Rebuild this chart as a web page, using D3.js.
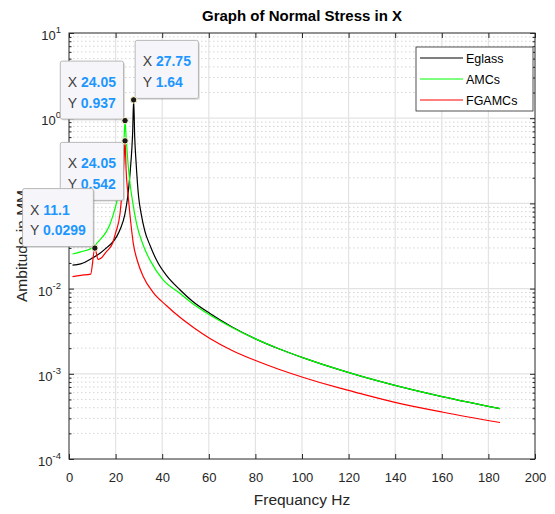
<!DOCTYPE html>
<html>
<head>
<meta charset="utf-8">
<script src="https://cdn.jsdelivr.net/npm/d3@7"></script>
<style>
  body { margin: 0; background: #fff; }
  svg { font-family: "Liberation Sans", Arial, sans-serif; }
</style>
</head>
<body>
<svg id="chart" width="555" height="514"></svg>
<script>
// values
const seriesNames = ["Eglass", "AMCs", "FGAMCs"];
const seriesColors = ["#000000", "#00ff00", "#ff0000"];

const freqEglass = [1.5, 5, 10, 13.3, 16, 18.7, 20.5, 22, 24, 25.2, 26.2, 27, 27.3, 27.75, 28.2, 28.8, 29.9, 31, 32.5, 34.8, 38, 41.9, 47.6, 53, 60.5, 70, 79.8, 90, 100.6, 116.3, 124.9, 139.9, 160.6, 185];
const ampEglass = [0.0189, 0.0195, 0.0228, 0.026, 0.03, 0.035, 0.041, 0.05, 0.075, 0.12, 0.225, 0.45, 0.66, 1.64, 0.6, 0.3, 0.118, 0.075, 0.048, 0.032, 0.0205, 0.0142, 0.0097, 0.0071, 0.0051, 0.00355, 0.00259, 0.00197, 0.00154, 0.00111, 0.000944, 0.000731, 0.000536, 0.00039];

const freqAMC = [1.5, 5, 10.7, 11.9, 15.9, 17.6, 18.7, 20.7, 22.6, 23.6, 24.05, 24.5, 25.3, 26.2, 27.3, 29, 31.9, 35, 40.2, 47.6, 53, 60.5, 70, 79.8, 90, 100.6, 116.3, 124.9, 139.9, 160.6, 185];
const ampAMC = [0.0255, 0.027, 0.031, 0.034, 0.046, 0.057, 0.07, 0.11, 0.225, 0.55, 0.937, 0.6, 0.3, 0.17, 0.105, 0.058, 0.032, 0.021, 0.0128, 0.0088, 0.0067, 0.0049, 0.0035, 0.00259, 0.00197, 0.00154, 0.00111, 0.000944, 0.000731, 0.000536, 0.00039];

const freqFGAMC = [1.5, 5, 9.3, 11.1, 12.5, 13.5, 16, 18.7, 20, 21.9, 23.3, 23.9, 24.05, 24.5, 25.5, 26.5, 27.6, 29.5, 31.9, 36, 41.9, 47.6, 53.4, 60.5, 70, 79.8, 90, 100.6, 116.3, 124.9, 139.9, 160.6, 185];
const ampFGAMC = [0.0138, 0.0143, 0.0148, 0.0299, 0.022, 0.0225, 0.027, 0.034, 0.045, 0.076, 0.225, 0.46, 0.542, 0.25, 0.115, 0.06, 0.034, 0.0205, 0.0138, 0.0091, 0.0063, 0.0046, 0.0035, 0.0026, 0.00188, 0.00144, 0.00113, 0.000906, 0.000678, 0.000588, 0.000462, 0.000354, 0.000268];

const xTicks = [0, 20, 40, 60, 80, 100, 120, 140, 160, 180, 200];
const yExponents = [-4, -3, -2, -1, 0, 1];

// data tips: x, y, which side the box sits on
const tipX = [27.75, 24.05, 24.05, 11.1];
const tipY = [1.64, 0.937, 0.542, 0.0299];
const tipSide = ["upright", "upleft", "downleft", "upleft"];

const titleText = "Graph of Normal Stress in X";
const xLabelText = "Frequancy Hz";
const yLabelText = "Ambitude in MM";

const W = 555, H = 514;
const margin = { top: 33, right: 20, bottom: 55, left: 69 };
const svg = d3.select("#chart");
const axColor = "#262626";

const x = d3.scaleLinear().domain([0, 200]).range([margin.left, W - margin.right]);
const y = d3.scaleLog().domain([1e-4, 10]).range([H - margin.bottom, margin.top]);

const xL = x.range()[0], xR = x.range()[1];
const yT = y.range()[1], yB = y.range()[0];

const majorY = yExponents.map(e => Math.pow(10, e));
const minorY = [];
yExponents.slice(0, -1).forEach(e => {
  for (let k = 2; k <= 9; k++) minorY.push(k * Math.pow(10, e));
});

// grid
const grid = svg.append("g");
grid.selectAll(".ymin").data(minorY).join("line")
  .attr("x1", xL).attr("x2", xR)
  .attr("y1", d => y(d)).attr("y2", d => y(d))
  .attr("stroke", "#d4d4d4").attr("stroke-width", 1)
  .attr("stroke-dasharray", "1.5,2.5");
grid.selectAll(".ymaj").data(majorY.slice(1, -1)).join("line")
  .attr("x1", xL).attr("x2", xR)
  .attr("y1", d => y(d)).attr("y2", d => y(d))
  .attr("stroke", "#e3e3e3").attr("stroke-width", 1.2);
grid.selectAll(".xmaj").data(xTicks.slice(1, -1)).join("line")
  .attr("x1", d => x(d)).attr("x2", d => x(d))
  .attr("y1", yT).attr("y2", yB)
  .attr("stroke", "#e3e3e3").attr("stroke-width", 1.2);

// lines
const line = d3.line()
  .x(d => x(d[0])).y(d => y(d[1]))
  .curve(d3.curveMonotoneX);

const allFreq = [freqEglass, freqAMC, freqFGAMC];
const allAmp = [ampEglass, ampAMC, ampFGAMC];

allFreq.forEach((f, i) => {
  svg.append("path")
    .datum(d3.zip(f, allAmp[i]))
    .attr("fill", "none")
    .attr("stroke", seriesColors[i])
    .attr("stroke-width", 1.2)
    .attr("d", line);
});

// axes, ticks pointing inward
const xAxisB = svg.append("g").attr("transform", `translate(0,${yB})`)
  .call(d3.axisBottom(x).tickValues(xTicks).tickSize(-5).tickPadding(14).tickSizeOuter(0));
const xAxisT = svg.append("g").attr("transform", `translate(0,${yT})`)
  .call(d3.axisTop(x).tickValues(xTicks).tickSize(-5).tickFormat("").tickSizeOuter(0));
const yAxisL = svg.append("g").attr("transform", `translate(${xL},0)`)
  .call(d3.axisLeft(y).tickValues(majorY).tickSize(-5).tickFormat("").tickSizeOuter(0));
const yAxisR = svg.append("g").attr("transform", `translate(${xR},0)`)
  .call(d3.axisRight(y).tickValues(majorY).tickSize(-5).tickFormat("").tickSizeOuter(0));
const yMinL = svg.append("g").attr("transform", `translate(${xL},0)`)
  .call(d3.axisLeft(y).tickValues(minorY).tickSize(-2.5).tickFormat("").tickSizeOuter(0));
const yMinR = svg.append("g").attr("transform", `translate(${xR},0)`)
  .call(d3.axisRight(y).tickValues(minorY).tickSize(-2.5).tickFormat("").tickSizeOuter(0));

[xAxisB, xAxisT, yAxisL, yAxisR, yMinL, yMinR].forEach(g => {
  g.select(".domain").remove();
  g.selectAll("line").attr("stroke", axColor);
});
xAxisB.selectAll("text").attr("font-size", 13).attr("fill", axColor)
  .attr("font-family", "Liberation Sans, Arial, sans-serif");

// y tick labels 10^n
yExponents.forEach(e => {
  const t = svg.append("text")
    .attr("x", xL - 8).attr("y", y(Math.pow(10, e)) + 7)
    .attr("text-anchor", "end").attr("fill", axColor).attr("font-size", 13);
  t.append("tspan").text("10");
  t.append("tspan").attr("dy", -7).attr("font-size", 9.5).text(e);
});

// box
svg.append("rect")
  .attr("x", xL).attr("y", yT)
  .attr("width", xR - xL).attr("height", yB - yT)
  .attr("fill", "none").attr("stroke", axColor).attr("stroke-width", 1);

// labels
svg.append("text")
  .attr("x", (xL + xR) / 2).attr("y", 21)
  .attr("text-anchor", "middle").attr("font-weight", "bold")
  .attr("font-size", 15).attr("fill", "#000").text(titleText);
svg.append("text")
  .attr("x", (xL + xR) / 2).attr("y", 505)
  .attr("text-anchor", "middle").attr("font-size", 15.5)
  .attr("fill", axColor).text(xLabelText);
svg.append("text")
  .attr("transform", `translate(27,${(yT + yB) / 2}) rotate(-90)`)
  .attr("text-anchor", "middle").attr("font-size", 15.5)
  .attr("fill", axColor).text(yLabelText);

// legend
const leg = svg.append("g").attr("transform", `translate(${xR - 119},${yT + 14})`);
leg.append("rect").attr("width", 117).attr("height", 64)
  .attr("fill", "#fff").attr("stroke", axColor).attr("stroke-width", 0.8);
seriesNames.forEach((n, i) => {
  const ly = 11 + i * 21;
  leg.append("line").attr("x1", 4).attr("x2", 47).attr("y1", ly).attr("y2", ly)
    .attr("stroke", seriesColors[i]).attr("stroke-width", 1.2);
  leg.append("text").attr("x", 50).attr("y", ly + 4.5)
    .attr("font-size", 12.5).attr("fill", "#000").text(n);
});

// data tips
const tips = svg.append("g");
tipX.forEach((tx, i) => {
  const px = x(tx), py = y(tipY[i]);
  const g = tips.append("g");
  const t1 = g.append("text").attr("font-size", 14);
  t1.append("tspan").attr("fill", "#404040").text("X ");
  t1.append("tspan").attr("fill", "#1e96ff").attr("font-weight", "bold").text(tx);
  const t2 = g.append("text").attr("font-size", 14);
  t2.append("tspan").attr("fill", "#404040").text("Y ");
  t2.append("tspan").attr("fill", "#1e96ff").attr("font-weight", "bold").text(tipY[i]);
  const tw = Math.max(t1.node().getComputedTextLength(), t2.node().getComputedTextLength());
  const bw = tw + 15, bh = 58;
  const side = tipSide[i];
  const bx = side === "upright" ? px + 1.5 : px - 1.5 - bw;
  const by = side === "downleft" ? py + 1.5 : py - 1.5 - bh;
  g.insert("rect", "text").attr("x", bx + 1.5).attr("y", by + 1.5)
    .attr("width", bw).attr("height", bh).attr("rx", 2)
    .attr("fill", "#000").attr("opacity", 0.12);
  g.insert("rect", "text").attr("x", bx).attr("y", by)
    .attr("width", bw).attr("height", bh).attr("rx", 2)
    .attr("fill", "#f6f6fa").attr("stroke", "#a8a8a8").attr("stroke-width", 0.8);
  t1.attr("x", bx + 7.5).attr("y", by + 26);
  t2.attr("x", bx + 7.5).attr("y", by + 46.5);
  g.append("circle").attr("cx", px).attr("cy", py).attr("r", 3.2)
    .attr("fill", "#1a1a1a").attr("stroke", "#fffbd0").attr("stroke-width", 1);
});
</script>
</body>
</html>
